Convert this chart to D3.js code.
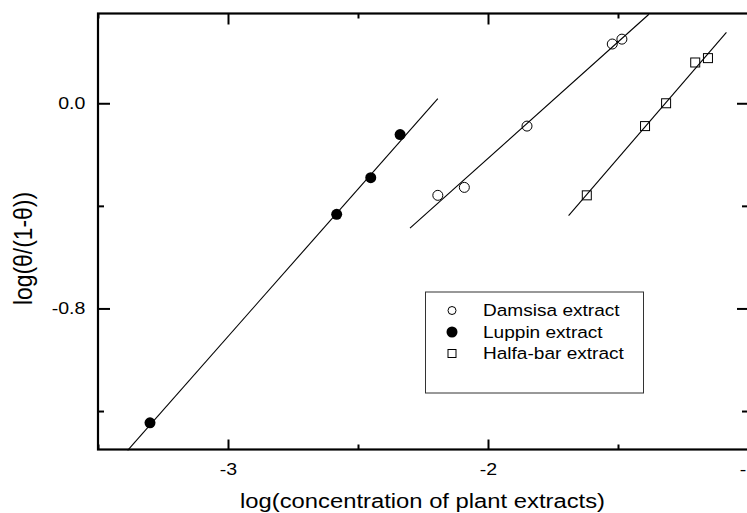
<!DOCTYPE html>
<html>
<head>
<meta charset="utf-8">
<script src="https://cdn.jsdelivr.net/npm/d3@7/dist/d3.min.js"></script>
<style>
  html, body { margin: 0; padding: 0; background: #fff; }
  svg { display: block; }
  text { font-family: "Liberation Sans", Arial, sans-serif; fill: #000; }
</style>
</head>
<body>
<svg id="chart" width="747" height="513"></svg>
<script>
// Langmuir-type plot: log(θ/(1-θ)) against log(concentration) for three plant extracts
const seriesNames = ["Damsisa extract", "Luppin extract", "Halfa-bar extract"];

// measured points
const damsisaX = [-2.193, -2.091, -1.850, -1.522, -1.485];
const damsisaY = [-0.359, -0.328, -0.089, 0.231, 0.250];
const luppinX  = [-3.300, -2.582, -2.451, -2.338];
const luppinY  = [-1.246, -0.433, -0.290, -0.122];
const halfaX   = [-1.620, -1.396, -1.315, -1.203, -1.154];
const halfaY   = [-0.359, -0.089, 0.000, 0.159, 0.176];

// fitted straight lines: [start, end] in data units
const damsisaFitX = [-2.300, -1.381];
const damsisaFitY = [-0.487, 0.347];
const luppinFitX  = [-3.386, -2.193];
const luppinFitY  = [-1.353, 0.018];
const halfaFitX   = [-1.690, -1.083];
const halfaFitY   = [-0.438, 0.276];

// axis ticks
const xMajorTicks = [-3, -2, -1];
const xMinorTicks = [-3.5, -2.5, -1.5];
const yMajorTicks = [-0.8, 0.0];
const yMinorTicks = [-1.2, -0.4];
const xTickLabels = ["-3", "-2", "-1"];
const yTickLabels = ["-0.8", "0.0"];

const xDomain = [-3.5, -1.0];
const yDomain = [-1.35, 0.35];

(function draw() {
  const svg = d3.select("#chart");
  const pLeft = 98, pRight = 748, pTop = 13.5, pBottom = 449.5;
  const x = d3.scaleLinear().domain(xDomain).range([pLeft, pRight]);
  const y = d3.scaleLinear().domain(yDomain).range([pBottom, pTop]);
  const stretch = 1.15;

  // fitted lines
  const fits = [
    [damsisaFitX, damsisaFitY],
    [luppinFitX, luppinFitY],
    [halfaFitX, halfaFitY]
  ];
  const lineGen = d3.line().x(d => x(d[0])).y(d => y(d[1]));
  fits.forEach(([fx, fy]) => {
    svg.append("path")
      .datum(fx.map((v, i) => [v, fy[i]]))
      .attr("d", lineGen)
      .attr("fill", "none")
      .attr("stroke", "#000")
      .attr("stroke-width", 1.1);
  });

  // markers
  const zip = (a, b) => a.map((v, i) => [v, b[i]]);
  svg.append("g").selectAll("circle")
    .data(zip(damsisaX, damsisaY)).join("circle")
    .attr("cx", d => x(d[0])).attr("cy", d => y(d[1])).attr("r", 5)
    .attr("fill", "none").attr("stroke", "#000").attr("stroke-width", 1);
  svg.append("g").selectAll("circle")
    .data(zip(luppinX, luppinY)).join("circle")
    .attr("cx", d => x(d[0])).attr("cy", d => y(d[1])).attr("r", 5.5)
    .attr("fill", "#000");
  const sq = 9;
  svg.append("g").selectAll("rect")
    .data(zip(halfaX, halfaY)).join("rect")
    .attr("x", d => x(d[0]) - sq / 2).attr("y", d => y(d[1]) - sq / 2)
    .attr("width", sq).attr("height", sq)
    .attr("fill", "none").attr("stroke", "#000").attr("stroke-width", 1);

  // axes: ticks point inward on all four sides
  function styleAxis(g) {
    g.select(".domain").remove();
    g.selectAll(".tick line").attr("stroke", "#000").attr("stroke-width", 2);
    g.selectAll(".tick text").attr("font-size", 17)
      .attr("font-family", "'Liberation Sans', Arial, sans-serif")
      .attr("transform", `scale(${stretch},1)`);
  }
  const fmtX = d => xTickLabels[xMajorTicks.indexOf(d)];
  const fmtY = d => yTickLabels[yMajorTicks.findIndex(v => Math.abs(v - d) < 1e-9)];

  svg.append("g").attr("transform", `translate(0,${pBottom})`)
    .call(d3.axisBottom(x).tickValues(xMajorTicks).tickSize(-10).tickPadding(13).tickFormat(fmtX))
    .call(styleAxis);
  svg.append("g").attr("transform", `translate(0,${pBottom})`)
    .call(d3.axisBottom(x).tickValues(xMinorTicks).tickSize(-5).tickFormat(""))
    .call(styleAxis);
  svg.append("g").attr("transform", `translate(0,${pTop})`)
    .call(d3.axisTop(x).tickValues(xMajorTicks).tickSize(-11).tickFormat(""))
    .call(styleAxis);
  svg.append("g").attr("transform", `translate(0,${pTop})`)
    .call(d3.axisTop(x).tickValues(xMinorTicks).tickSize(-5).tickFormat(""))
    .call(styleAxis);
  svg.append("g").attr("transform", `translate(${pLeft},0)`)
    .call(d3.axisLeft(y).tickValues(yMajorTicks).tickSize(-12).tickPadding(11).tickFormat(fmtY))
    .call(styleAxis);
  svg.append("g").attr("transform", `translate(${pLeft},0)`)
    .call(d3.axisLeft(y).tickValues(yMinorTicks).tickSize(-6).tickFormat(""))
    .call(styleAxis);
  svg.append("g").attr("transform", `translate(${pRight},0)`)
    .call(d3.axisRight(y).tickValues(yMajorTicks).tickSize(-11).tickFormat(""))
    .call(styleAxis);
  svg.append("g").attr("transform", `translate(${pRight},0)`)
    .call(d3.axisRight(y).tickValues(yMinorTicks).tickSize(-6).tickFormat(""))
    .call(styleAxis);

  // frame (its right edge sits just past the visible area)
  svg.append("rect")
    .attr("x", pLeft).attr("y", pTop)
    .attr("width", pRight + 2 - pLeft).attr("height", pBottom - pTop)
    .attr("fill", "none").attr("stroke", "#000").attr("stroke-width", 2.2);

  // axis titles
  svg.append("text")
    .attr("x", 422.5).attr("y", 508)
    .attr("text-anchor", "middle")
    .attr("font-size", 19.5)
    .attr("textLength", 365).attr("lengthAdjust", "spacingAndGlyphs")
    .text("log(concentration of plant extracts)");
  svg.append("text")
    .attr("transform", "translate(31.5,248.5) scale(1.2,1) rotate(-90)")
    .attr("text-anchor", "middle")
    .attr("font-size", 21)
    .attr("textLength", 113).attr("lengthAdjust", "spacingAndGlyphs")
    .text("log(θ/(1-θ))");

  // legend
  const legend = svg.append("g");
  legend.append("rect")
    .attr("x", 425.5).attr("y", 292).attr("width", 218).attr("height", 101)
    .attr("fill", "#fff").attr("stroke", "#333").attr("stroke-width", 1);
  const rowBase = [316, 337.5, 359];
  const symX = 452;
  legend.append("circle").attr("cx", symX).attr("cy", rowBase[0] - 5.5).attr("r", 4)
    .attr("fill", "none").attr("stroke", "#000").attr("stroke-width", 1);
  legend.append("circle").attr("cx", symX).attr("cy", rowBase[1] - 5.5).attr("r", 5.5)
    .attr("fill", "#000");
  legend.append("rect").attr("x", symX - 4).attr("y", rowBase[2] - 9.5).attr("width", 8).attr("height", 8)
    .attr("fill", "none").attr("stroke", "#000").attr("stroke-width", 1);
  legend.selectAll("text.entry").data(seriesNames).join("text")
    .attr("class", "entry")
    .attr("transform", (d, i) => `translate(483,${rowBase[i]}) scale(1.17,1)`)
    .attr("font-size", 16.3)
    .text(d => d);
})();
</script>
</body>
</html>
